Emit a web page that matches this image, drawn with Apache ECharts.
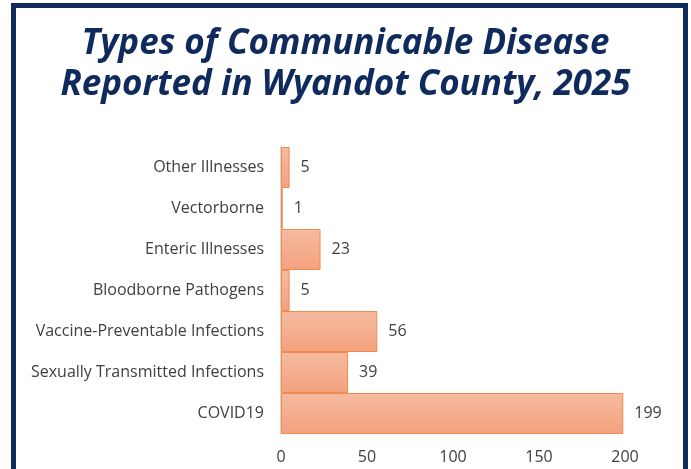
<!DOCTYPE html>
<html>
<head>
<meta charset="utf-8">
<script src="https://cdn.jsdelivr.net/npm/echarts@6/dist/echarts.min.js"></script>
<style>
  html, body { margin: 0; padding: 0; background: #fff; }
  #chart { width: 691px; height: 469px; }
</style>
</head>
<body>
<div id="chart"></div>
<script>
// data, bottom to top as echarts draws category axes
const categories = [
  "COVID19",
  "Sexually Transmitted Infections",
  "Vaccine-Preventable Infections",
  "Bloodborne Pathogens",
  "Enteric Illnesses",
  "Vectorborne",
  "Other Illnesses"
];
const cases = [199, 39, 56, 5, 23, 1, 5];
const xTicks = [0, 50, 100, 150, 200];

const chart = echarts.init(document.getElementById("chart"));

const option = {
  animation: false,
  title: {
    text: "Types of Communicable Disease\nReported in Wyandot County, 2025",
    left: "center",
    top: 19,
    textStyle: {
      color: "#0f2a5c",
      fontFamily: "Open Sans",
      fontStyle: "italic",
      fontWeight: "bold",
      fontSize: 35,
      lineHeight: 41
    }
  },
  graphic: [
    {
      type: "rect",
      shape: { x: 13.5, y: 5.5, width: 672, height: 480 },
      style: { fill: "none", stroke: "#0f2a5c", lineWidth: 5 },
      silent: true
    }
  ],
  grid: {
    left: 281,
    right: 66,
    top: 147,
    bottom: 35
  },
  xAxis: {
    type: "value",
    min: xTicks[0],
    max: xTicks[xTicks.length - 1],
    interval: 50,
    splitLine: { show: false },
    axisLine: { show: false },
    axisTick: { show: false },
    axisLabel: {
      margin: 15,
      color: "#404040",
      fontFamily: "Open Sans",
      fontSize: 16
    }
  },
  yAxis: {
    type: "category",
    data: categories,
    axisLine: { show: true, lineStyle: { color: "#d9d9d9", width: 2 } },
    axisTick: { show: false },
    axisLabel: {
      margin: 17,
      color: "#404040",
      fontFamily: "Open Sans",
      fontSize: 16
    }
  },
  series: [
    {
      type: "bar",
      data: cases,
      barCategoryGap: "0%",
      itemStyle: {
        color: new echarts.graphic.LinearGradient(0, 0, 0, 1, [
          { offset: 0, color: "#f6bba0" },
          { offset: 1, color: "#f4a17d" }
        ]),
        borderColor: "#f28a4f",
        borderWidth: 1
      },
      label: {
        show: true,
        position: "right",
        distance: 11,
        color: "#404040",
        fontFamily: "Open Sans",
        fontSize: 16
      }
    }
  ]
};

chart.setOption(option);
</script>
</body>
</html>
